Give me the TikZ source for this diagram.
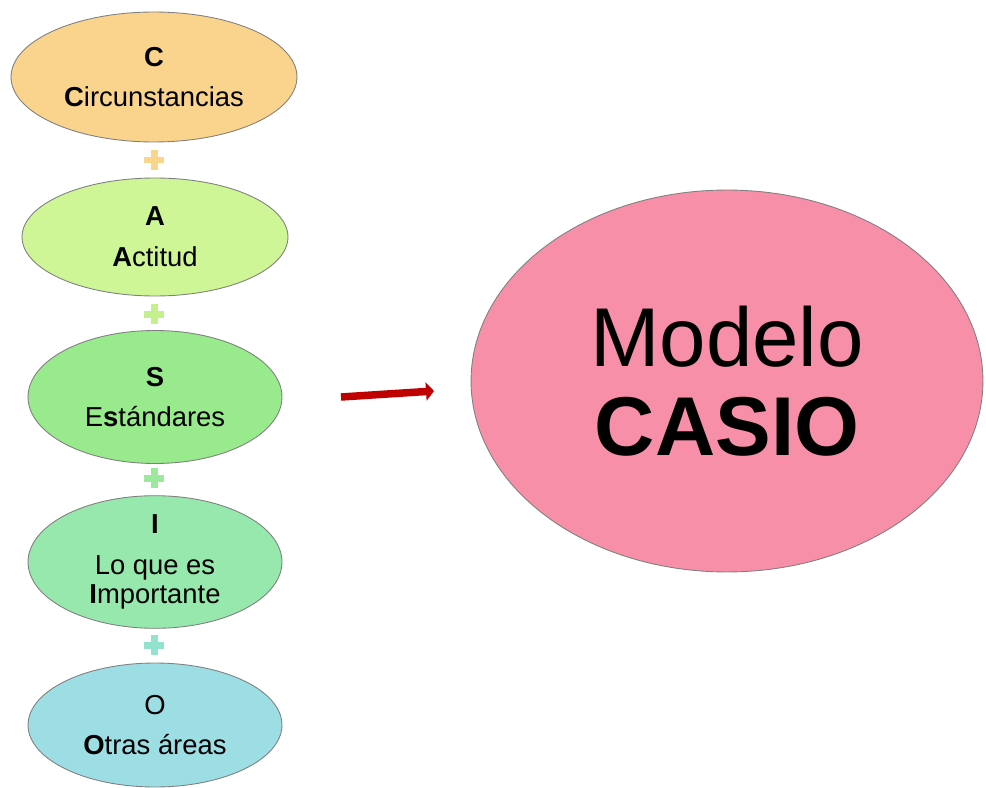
\documentclass[tikz,border=0pt]{standalone}
\usepackage{fontspec}
\setmainfont{Liberation Sans}
\usetikzlibrary{shapes.geometric,arrows.meta}
\definecolor{fondoC}{RGB}{250,212,140}
\definecolor{fondoA}{RGB}{206,246,150}
\definecolor{fondoS}{RGB}{152,234,140}
\definecolor{fondoI}{RGB}{150,232,172}
\definecolor{fondoO}{RGB}{156,222,228}
\definecolor{fondoM}{RGB}{247,143,168}
\definecolor{masC}{RGB}{252,213,140}
\definecolor{masA}{RGB}{196,240,142}
\definecolor{masS}{RGB}{156,232,156}
\definecolor{masI}{RGB}{146,226,206}
\definecolor{borde}{RGB}{128,128,128}
\definecolor{rojo}{RGB}{192,0,0}
\begin{document}
\begin{tikzpicture}[x=0.02cm, y=-0.02cm, line join=round, line cap=round,
  letra/.style={ellipse, draw=borde, line width=0.5pt, inner sep=0pt, align=center,
    font=\fontsize{15.6}{16.2}\selectfont},
  modelo/.style={ellipse, draw=borde, line width=0.5pt, inner sep=0pt, align=center,
    fill=fondoM, minimum width=10.24cm, minimum height=7.64cm,
    font=\fontsize{47.5}{50.6}\selectfont},
  flecha/.style={draw=rojo, line width=0.15cm, line cap=butt,
    -{Triangle[length=0.16cm,width=0.36cm]}}]
\useasboundingbox (0,0) rectangle (986,787);
\node[letra, fill=fondoC, minimum width=5.72cm, minimum height=2.6cm] (circ) at (154,77)
  {\textbf{C}\\[7pt]\textbf{C}ircunstancias};
\node[letra, fill=fondoA, minimum width=5.32cm, minimum height=2.36cm] (acti) at (155,237)
  {\textbf{A}\\[7pt]\textbf{A}ctitud};
\node[letra, fill=fondoS, minimum width=5.08cm, minimum height=2.66cm] (esta) at (155,397)
  {\textbf{S}\\[7pt]E\textbf{s}tándares};
\node[letra, fill=fondoI, minimum width=5.08cm, minimum height=2.62cm] (impo) at (155,562)
  {\textbf{I}\\[7pt]Lo que es\\\textbf{I}mportante};
\node[letra, fill=fondoO, minimum width=5.08cm, minimum height=2.48cm] (otra) at (155,725)
  {O\\[7pt]\textbf{O}tras áreas};
\node[modelo] (casio) at (727,381) {Modelo\\\textbf{CASIO}};
\foreach \masy/\masc in {160/masC,314/masA,478/masS,645/masI}{
  \draw[\masc, line width=0.14cm, line cap=butt] (154,\masy-10)--(154,\masy+10) (144,\masy)--(164,\masy);}
\coordinate (flechaA) at (341,397);
\coordinate (flechaB) at (434,391);
\draw[flecha] (flechaA)--(flechaB);
\end{tikzpicture}
\end{document}
